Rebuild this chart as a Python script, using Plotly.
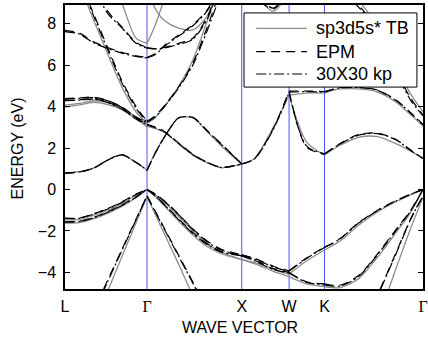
import plotly.graph_objects as go

# ---------------- data ----------------
K_SEGS = [
    [0.0, 0.15, 0.3, 0.45, 0.6, 0.75, 0.866],          # L -> Gamma
    [0.866, 0.95, 1.05, 1.2, 1.35, 1.5, 1.65, 1.866],  # Gamma -> X
    [1.866, 2.0, 2.2, 2.366],                          # X -> W
    [2.366, 2.55, 2.74],                               # W -> K
    [2.74, 2.9, 3.1, 3.3, 3.5, 3.65, 3.78],            # K -> Gamma
]
K_TICKS = [0.0, 0.866, 1.866, 2.366, 2.74, 3.78]
K_LABELS = ["L", "Γ", "X", "W", "K", "Γ"]
E_TICKS = [-4, -2, 0, 2, 4, 6, 8]

# sp3d5s* TB (gray solid)
TB_V1 = [[-1.45, -1.45, -1.25, -1.0, -0.68, -0.28, 0.0], [0.0, -0.25, -0.62, -1.3, -2.0, -2.6, -3.02, -3.38],
         [-3.38, -3.52, -3.85, -4.08], [-4.08, -3.45, -2.92], [-2.92, -2.5, -1.72, -1.08, -0.58, -0.26, 0.0]]
TB_V2 = [[-1.62, -1.6, -1.42, -1.15, -0.82, -0.4, 0.0], [0.0, -0.33, -0.8, -1.52, -2.2, -2.75, -3.1, -3.38],
         [-3.38, -3.58, -3.95, -4.2], [-4.2, -4.55, -4.68], [-4.68, -4.74, -4.3, -3.27, -2.05, -1.1, 0.0]]
TB_V3 = [[-8.5, -8.1, -6.5, -4.9, -3.25, -1.6, -0.35], [-0.35, -1.17, -2.15, -3.6, -5.1, -6.3, -7.3, -7.8],
         None, None, [-10.0, -9.5, -8.0, -6.25, -3.75, -1.87, -0.38]]
TB_C1 = [[0.8, 0.86, 1.03, 1.42, 1.67, 1.3, 0.94], [0.94, 1.75, 2.55, 3.45, 3.45, 2.8, 2.1, 1.22],
         [1.22, 1.5, 3.0, 4.55], [4.55, 2.3, 1.66], [1.66, 2.12, 2.52, 2.55, 2.2, 1.85, 1.5]]
TB_C1B = [None, [3.05, 2.95, 2.75, 2.2, 1.66, 1.3, 1.05, 1.22], None, None, None]
TB_C2 = [[3.97, 4.08, 4.2, 4.1, 3.85, 3.4, 3.02], None, None, [4.55, 4.65, 4.65],
         [4.65, 4.85, 4.85, 4.7, 4.2, 3.6, 3.05]]
TB_C2B = [[4.07, 4.15, 4.28, 4.2, 3.95, 3.5, 3.12], None, None, None, None]
TB_C3 = [[10.5, 9.8, 8.2, 6.55, 4.95, 3.75, 3.2], [3.2, 3.45, 4.0, 4.98, 6.25, 8.1, 10.0, 11.0],
         None, None, [10.0, 9.7, 9.1, 7.8, 5.9, 4.6, 3.75]]
TB_U1 = [[12.5, 12.0, 11.5, 10.5, 9.0, 7.3, 7.05], [7.05, 7.9, 9.2, 11.0, 12.0, 12.5, 12.5, 12.5],
         None, None, None]
TB_U2 = [None, [9.9, 8.75, 8.15, 7.78, 7.7, 8.35, 9.7, 11.0], [11.0, 9.6, 8.6, 9.6], None, None]

# EPM (black dashed)
EPM_V1 = [[-1.38, -1.37, -1.17, -0.92, -0.6, -0.22, 0.0], [0.0, -0.2, -0.55, -1.2, -1.9, -2.48, -2.88, -3.15],
          [-3.15, -3.32, -3.7, -3.92], [-3.92, -3.3, -2.78], [-2.78, -2.38, -1.6, -1.0, -0.52, -0.22, 0.0]]
EPM_V2 = [[-1.55, -1.53, -1.35, -1.08, -0.75, -0.35, 0.0], [0.0, -0.28, -0.72, -1.42, -2.08, -2.62, -2.98, -3.15],
          [-3.15, -3.4, -3.82, -4.0], [-4.0, -4.45, -4.55], [-4.55, -4.62, -4.15, -3.1, -1.9, -1.0, 0.0]]
EPM_V3 = [[-7.8, -7.3, -5.85, -4.38, -2.9, -1.43, -0.3], [-0.3, -1.02, -1.88, -3.17, -4.46, -5.7, -6.6, -7.1],
          None, None, [-9.0, -8.5, -7.2, -5.1, -3.0, -1.41, -0.3]]
EPM_C1 = [[0.78, 0.84, 1.02, 1.42, 1.68, 1.3, 0.92], [0.92, 1.72, 2.52, 3.45, 3.48, 2.85, 2.2, 1.24],
          [1.24, 1.48, 2.95, 4.75], [4.75, 2.05, 1.7], [1.7, 2.2, 2.65, 2.72, 2.4, 1.9, 1.5]]
EPM_C1B = [None, [3.15, 3.02, 2.8, 2.25, 1.7, 1.32, 1.07, 1.24], None, None, None]
EPM_C2 = [[4.38, 4.42, 4.45, 4.3, 3.98, 3.5, 3.25], None, None, [4.75, 4.75, 4.72],
          [4.72, 4.92, 4.95, 4.8, 4.3, 3.7, 3.15]]
EPM_C2B = [[4.3, 4.33, 4.38, 4.22, 3.9, 3.42, 3.15], None, None, None, None]
EPM_C3 = [[10.8, 10.0, 8.5, 6.85, 5.25, 4.0, 3.3], [3.3, 3.55, 4.05, 4.95, 6.1, 7.8, 9.6, 11.0],
          None, None, [10.0, 9.6, 8.9, 7.6, 5.7, 4.4, 3.6]]
EPM_UA = [[12.5, 11.0, 9.9, 8.6, 7.85, 7.1, 6.85], [6.85, 6.8, 6.85, 7.05, 7.3, 8.3, 10.0, 11.0],
          [11.0, 9.4, 8.7, 9.8], None, None]
EPM_UB = [[7.68, 7.55, 7.12, 6.85, 6.62, 6.45, 6.38], [6.38, 6.55, 6.95, 7.45, 7.95, 8.65, 9.9, 11.0],
          None, None, None]

# 30x30 k.p (black dash-dot)
KP_V1 = [[-1.4, -1.39, -1.19, -0.94, -0.62, -0.24, 0.0], [0.0, -0.22, -0.57, -1.22, -1.93, -2.52, -2.92, -3.2],
         [-3.2, -3.36, -3.74, -3.95], [-3.95, -3.33, -2.8], [-2.8, -2.4, -1.62, -1.02, -0.54, -0.23, 0.0]]
KP_V2 = [[-1.57, -1.55, -1.37, -1.1, -0.77, -0.37, 0.0], [0.0, -0.3, -0.74, -1.45, -2.12, -2.66, -3.02, -3.2],
         [-3.2, -3.44, -3.86, -4.03], [-4.03, -4.48, -4.6], [-4.6, -4.66, -4.2, -3.15, -1.95, -1.03, 0.0]]
KP_V3 = [[-7.9, -7.4, -5.95, -4.45, -2.95, -1.46, -0.32], [-0.32, -1.05, -1.93, -3.22, -4.52, -5.8, -6.7, -7.2],
         None, None, [-9.1, -8.6, -7.3, -5.15, -3.05, -1.44, -0.32]]
KP_C1 = [[0.79, 0.85, 1.03, 1.41, 1.67, 1.31, 0.93], [0.93, 1.73, 2.53, 3.46, 3.47, 2.83, 2.18, 1.23],
         [1.23, 1.47, 2.9, 4.68], [4.68, 2.1, 1.72], [1.72, 2.18, 2.62, 2.7, 2.38, 1.88, 1.5]]
KP_C1B = [None, [3.1, 2.98, 2.78, 2.22, 1.68, 1.31, 1.06, 1.23], None, None, None]
KP_C2 = [[4.36, 4.4, 4.43, 4.28, 3.96, 3.48, 3.22], None, None, [4.7, 4.72, 4.7],
         [4.7, 4.9, 4.92, 4.78, 4.28, 3.68, 3.12]]
KP_C2B = [[4.28, 4.31, 4.36, 4.2, 3.88, 3.4, 3.12], None, None, None, None]
KP_C3 = [[10.8, 10.0, 8.4, 6.75, 5.15, 3.92, 3.25], [3.25, 3.5, 4.0, 4.9, 6.0, 7.65, 9.4, 11.0],
         None, None, [10.0, 9.5, 8.8, 7.5, 5.6, 4.3, 3.55]]
KP_UA = [[12.5, 11.0, 9.8, 8.5, 7.8, 7.05, 6.82], [6.82, 6.78, 6.83, 7.0, 7.25, 8.2, 9.9, 11.0],
         [11.0, 9.5, 8.75, 9.7], None, None]
KP_UB = [[7.62, 7.5, 7.08, 6.8, 6.58, 6.42, 6.35], [6.35, 6.5, 6.9, 7.4, 7.9, 8.6, 9.8, 11.0],
         None, None, None]

MODELS = [
    ("sp3d5s* TB", [TB_V1, TB_V2, TB_V3, TB_C1, TB_C1B, TB_C2, TB_C2B, TB_C3, TB_U1, TB_U2]),
    ("EPM", [EPM_V1, EPM_V2, EPM_V3, EPM_C1, EPM_C1B, EPM_C2, EPM_C2B, EPM_C3, EPM_UA, EPM_UB]),
    ("30X30 kp", [KP_V1, KP_V2, KP_V3, KP_C1, KP_C1B, KP_C2, KP_C2B, KP_C3, KP_UA, KP_UB]),
]

# ---------------- styles ----------------
STYLE = {
    "sp3d5s* TB": dict(color="#8c8c8c", width=1.3, dash="solid"),
    "EPM": dict(color="black", width=1.2, dash="9px,6px"),
    "30X30 kp": dict(color="black", width=1.2, dash="10px,3px,2px,3px"),
}
FONT = "Liberation Sans, Arial, sans-serif"
SERIF = "Liberation Serif, Times New Roman, serif"


def flatten(band):
    xs, ys = [], []
    for ks, vals in zip(K_SEGS, band):
        if vals is None:
            continue
        xs += ks + [None]
        ys += vals + [None]
    return xs, ys


fig = go.Figure()
for name, bands in MODELS:
    for band in bands:
        xs, ys = flatten(band)
        fig.add_trace(go.Scatter(
            x=xs, y=ys, mode="lines", showlegend=False, hoverinfo="skip",
            line=dict(shape="spline", smoothing=0.8, **STYLE[name]),
            connectgaps=False,
        ))

# high-symmetry vertical lines
shapes = []
for k in K_TICKS[1:-1]:
    shapes.append(dict(type="line", xref="x", yref="paper", x0=k, x1=k, y0=0, y1=1,
                       line=dict(color="rgb(80,80,255)", width=1), layer="below"))

# custom legend box
shapes.append(dict(type="rect", xref="paper", yref="paper", x0=0.5, x1=0.983, y0=0.711, y1=0.972,
                   line=dict(color="black", width=1), fillcolor="white", layer="above"))
annotations = []
rows = [0.918, 0.836, 0.757]
for (name, _), yy in zip(MODELS, rows):
    st = STYLE[name]
    shapes.append(dict(type="line", xref="paper", yref="paper", x0=0.534, x1=0.676, y0=yy, y1=yy,
                       line=dict(color=st["color"], width=st["width"], dash=st["dash"]), layer="above"))
    annotations.append(dict(xref="paper", yref="paper", x=0.696, y=yy, text=name, showarrow=False,
                            xanchor="left", yanchor="middle", font=dict(family=FONT, size=18, color="black")))

annotations.append(dict(xref="paper", yref="paper", x=-0.134, y=0.495, text="ENERGY (eV)", textangle=-90,
                        showarrow=False, xanchor="center", yanchor="middle",
                        font=dict(family=FONT, size=16, color="black")))
annotations.append(dict(xref="paper", yref="paper", x=0.489, y=-0.134, text="WAVE VECTOR",
                        showarrow=False, xanchor="center", yanchor="middle",
                        font=dict(family=FONT, size=16, color="black")))

ticktext = [f'<span style="font-family:{SERIF}">{t}</span>' if t == "Γ" else t for t in K_LABELS]

fig.update_layout(
    width=428, height=340,
    margin=dict(l=65, r=5, t=5, b=51),
    paper_bgcolor="white", plot_bgcolor="white",
    shapes=shapes, annotations=annotations,
    font=dict(family=FONT, size=16, color="black"),
    xaxis=dict(range=[0, 3.78], tickvals=K_TICKS, ticktext=ticktext, ticks="", showgrid=False,
               zeroline=False, showline=True, linecolor="black", linewidth=1.5, mirror=True,
               ticklabelstandoff=2, automargin=False),
    yaxis=dict(range=[-4.8, 8.9], tickvals=E_TICKS, ticks="inside", ticklen=5, tickcolor="black",
               showgrid=False, zeroline=False, showline=True, linecolor="black", linewidth=1.5,
               mirror="ticks", ticklabelstandoff=4, automargin=False),
)

fig.write_html("out.html")
